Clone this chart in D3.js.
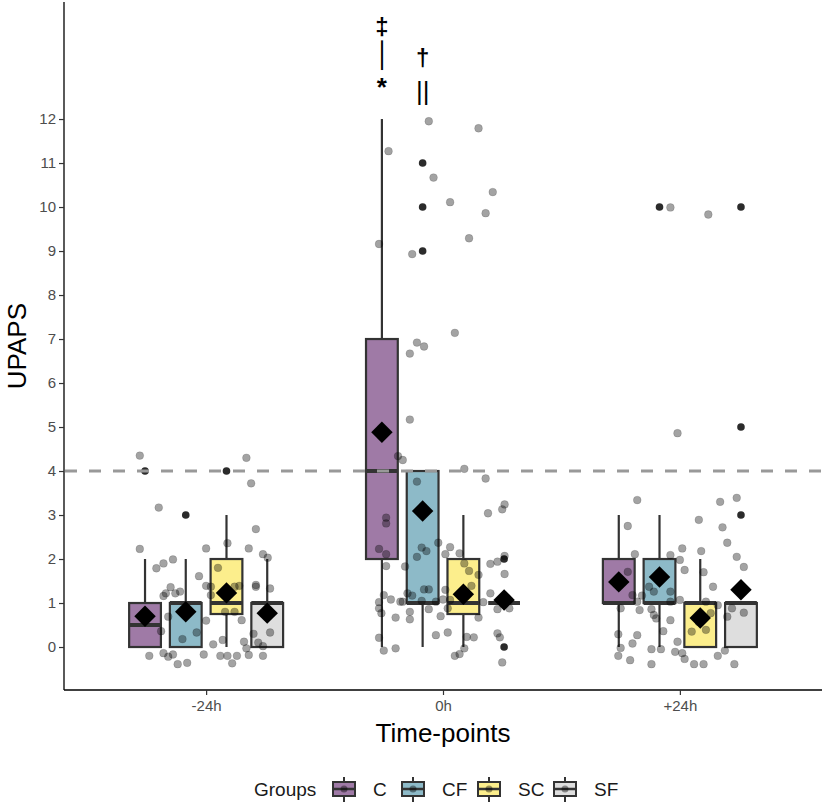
<!DOCTYPE html>
<html>
<head>
<meta charset="utf-8">
<script src="https://cdn.jsdelivr.net/npm/d3@7"></script>
<style>
	body { margin: 0; background: #fff; }
	svg { font-family: "Liberation Sans", Arial, sans-serif; }
</style>
</head>
<body>
<script>
var SIZE = { width: 824, height: 808 };
var PANEL = { left: 64, top: 2, right: 822, bottom: 690 };

var TIMEPOINTS = ['-24h', '0h', '+24h'];
var GROUPS = ['C', 'CF', 'SC', 'SF'];
var GROUP_COLORS = ['#9f7aa6', '#8dbac8', '#fcee8c', '#dedede'];
var Y_TICKS = [0, 1, 2, 3, 4, 5, 6, 7, 8, 9, 10, 11, 12];
var CUTOFF = 4;

// box statistics, [timepoint][group]
var Q1 = [[0, 0, 0.75, 0], [2, 1, 0.75, 1], [1, 1, 0, 0]];
var MEDIANS = [[0.5, 1, 1, 1], [4, 1, 1, 1], [1, 1, 1, 1]];
var Q3 = [[1, 1, 2, 1], [7, 4, 2, 1], [2, 2, 1, 1]];
var WHISKER_LOW = [[0, 0, 0, 0], [0, 0, 0, 1], [0, 0, 0, 0]];
var WHISKER_HIGH = [[2, 2, 3, 2], [12, 4, 3, 1], [3, 3, 2, 1]];
var MEANS = [[0.7, 0.8, 1.23, 0.77], [4.88, 3.09, 1.2, 1.07], [1.48, 1.59, 0.66, 1.3]];
var OUTLIERS = [
	[[4], [3], [4], []],
	[[], [9, 10, 11], [], [0, 2]],
	[[], [10], [], [3, 5, 10]]
];

// jittered observations: [offset from time-point in category steps, value]
var POINTS_M24 = [
	[-0.28, 4.35], [0.17, 4.30], [0.19, 3.72], [-0.20, 3.17], [0.21, 2.68], [-0.28, 2.23],
	[0.00, 2.24], [0.09, 2.36], [0.18, 2.24], [-0.21, 1.79], [-0.18, 1.90], [-0.14, 1.99],
	[-0.03, 1.61], [0.24, 2.11], [0.26, 2.03], [-0.15, 1.36], [-0.17, 1.22], [-0.11, 1.26],
	[0.05, 1.80], [0.00, 1.39], [0.02, 1.18], [0.14, 1.39], [0.21, 1.41], [0.27, 1.33],
	[-0.16, 0.69], [0.00, 0.60], [-0.19, 0.36], [-0.04, 0.33], [-0.10, 0.18], [0.20, 0.30],
	[0.27, 0.33], [0.07, 0.16], [0.15, 0.61], [0.08, 0.80], [0.12, 0.80], [0.16, 0.12],
	[0.17, -0.03], [0.22, 0.10], [0.24, 0.02], [-0.24, -0.20], [-0.18, -0.14], [-0.16, -0.22],
	[-0.14, -0.17], [-0.12, -0.39], [-0.08, -0.36], [-0.01, -0.17], [0.06, -0.20], [0.09, -0.20],
	[0.11, -0.37], [0.13, -0.20], [0.18, -0.18], [0.24, -0.20], [0.03, 0.06], [-0.18, 1.16],
	[0.02, 1.37], [0.12, 1.37], [0.21, 1.37], [-0.13, 1.22]
];
var POINTS_0H = [
	[-0.06, 11.95], [0.15, 11.79], [-0.23, 11.27], [-0.04, 10.67], [0.21, 10.34], [0.03, 10.11],
	[0.18, 9.86], [0.11, 9.29], [-0.27, 9.16], [-0.13, 8.93], [0.05, 7.14], [-0.11, 6.92],
	[-0.08, 6.83], [-0.14, 6.67], [-0.14, 5.17], [-0.19, 4.34], [-0.17, 4.25], [0.09, 4.05],
	[0.18, 3.83], [-0.11, 3.76], [0.26, 3.24], [0.25, 3.13], [0.19, 3.04], [-0.24, 2.94],
	[-0.24, 2.81], [-0.02, 2.37], [0.03, 2.27], [-0.27, 2.23], [-0.09, 2.26], [-0.07, 2.18],
	[-0.24, 2.11], [-0.11, 2.05], [0.01, 2.11], [0.07, 2.13], [0.26, 2.07], [-0.24, 1.84],
	[-0.16, 1.83], [0.09, 1.90], [0.11, 1.73], [0.15, 1.64], [0.20, 1.89], [0.23, 1.94],
	[0.26, 1.66], [0.12, 1.39], [-0.25, 1.18], [-0.15, 1.22], [-0.13, 1.17], [-0.08, 1.31],
	[-0.06, 1.31], [-0.22, 1.08], [-0.27, 1.02], [-0.18, 1.03], [-0.17, 1.03], [-0.09, 1.05],
	[-0.03, 1.03], [0.01, 1.30], [0.00, 1.08], [0.03, 1.07], [0.02, 0.88], [0.17, 1.02],
	[0.20, 1.22], [0.23, 0.86], [0.28, 0.88], [-0.06, 0.86], [-0.27, 0.88], [-0.26, 0.77],
	[-0.14, 0.80], [-0.14, 0.63], [-0.20, 0.67], [-0.01, 0.70], [0.15, 0.67], [-0.27, 0.21],
	[-0.03, 0.27], [0.02, 0.33], [0.10, 0.23], [0.13, 0.22], [0.23, 0.31], [0.24, 0.22],
	[0.09, -0.03], [-0.25, -0.08], [-0.20, -0.03], [0.05, -0.20], [0.07, -0.16], [0.25, -0.35]
];
var POINTS_P24 = [
	[-0.04, 9.99], [0.12, 9.83], [-0.01, 4.86], [-0.18, 3.34], [0.17, 3.30], [0.24, 3.39],
	[-0.22, 2.75], [0.08, 2.89], [0.18, 2.72], [0.20, 2.37], [-0.19, 2.11], [0.01, 2.24],
	[-0.04, 2.09], [0.00, 1.98], [0.02, 1.75], [0.09, 2.18], [0.10, 1.70], [0.24, 2.05],
	[0.27, 1.82], [-0.22, 1.71], [-0.13, 1.37], [0.14, 1.37], [-0.04, 1.26], [-0.16, 1.17],
	[-0.20, 1.18], [-0.11, 1.26], [-0.04, 1.03], [0.00, 1.07], [-0.25, 0.88], [-0.17, 0.84],
	[-0.12, 0.86], [-0.11, 0.73], [-0.10, 0.65], [-0.18, 1.03], [0.11, 1.03], [0.16, 0.95],
	[0.13, 0.77], [0.20, 0.69], [0.22, 0.88], [0.27, 0.78], [-0.04, 0.61], [0.08, 0.57],
	[-0.07, 0.36], [0.05, 0.35], [0.11, 0.39], [-0.26, 0.29], [-0.18, 0.27], [-0.20, 0.08],
	[-0.01, 0.12], [-0.25, -0.02], [-0.12, -0.05], [-0.08, -0.05], [-0.02, -0.11], [0.01, -0.14],
	[0.19, -0.08], [0.16, -0.20], [-0.26, -0.20], [-0.21, -0.30], [-0.12, -0.39], [0.02, -0.27],
	[0.06, -0.39], [0.10, -0.39], [0.23, -0.39]
];
var POINTS = [POINTS_M24, POINTS_0H, POINTS_P24];

// significance marks stacked over the 0h boxes
var MARK_TIME = '0h';
var MARK_GROUPS = ['C', 'C', 'C', 'CF', 'CF'];
var MARK_LABELS = ['\u2021', '\u2502', '*', '\u2020', '||'];
var MARK_VALUES = [14.11, 13.45, 12.82, 13.4, 12.65];

ready();

function ready() {
	var svg = d3.select('body')
		.append('svg')
		.attr('width', SIZE.width)
		.attr('height', SIZE.height);

	var x = d3.scalePoint()
		.domain(TIMEPOINTS)
		.range([PANEL.left, PANEL.right])
		.padding(0.6);

	var dodge = d3.scaleBand()
		.domain(GROUPS)
		.range([-0.325 * x.step(), 0.325 * x.step()])
		.paddingInner(0.22);

	var y = d3.scaleLinear()
		.domain([-0.977, 14.66])
		.range([PANEL.bottom, PANEL.top]);

	drawAxes(svg, x, y);
	drawBoxes(svg, x, dodge, y);
	drawPoints(svg, x, y);
	drawMeans(svg, x, dodge, y);
	drawCutoff(svg, y);
	drawMarks(svg, x, dodge, y);
	drawLegend(svg);
}

function boxData() {
	var boxes = [];
	TIMEPOINTS.forEach(function (t, i) {
		GROUPS.forEach(function (g, j) {
			boxes.push({
				time: t, group: g, color: GROUP_COLORS[j],
				q1: Q1[i][j], median: MEDIANS[i][j], q3: Q3[i][j],
				low: WHISKER_LOW[i][j], high: WHISKER_HIGH[i][j],
				mean: MEANS[i][j], outliers: OUTLIERS[i][j]
			});
		});
	});
	return boxes;
}

function drawAxes(svg, x, y) {
	var yAxis = d3.axisLeft(y).tickValues(Y_TICKS).tickSize(5).tickPadding(3);
	var xAxis = d3.axisBottom(x).tickSize(5).tickPadding(5);

	var gy = svg.append('g')
		.attr('transform', 'translate(' + PANEL.left + ',0)')
		.call(yAxis);
	var gx = svg.append('g')
		.attr('transform', 'translate(0,' + PANEL.bottom + ')')
		.call(xAxis);

	[gx, gy].forEach(function (g) {
		g.attr('font-size', 15).attr('font-family', '"Liberation Sans", Arial, sans-serif');
		g.select('.domain').attr('stroke', '#000').attr('stroke-width', 1.3);
		g.selectAll('.tick line').attr('stroke', '#333').attr('stroke-width', 1.2);
		g.selectAll('.tick text').attr('fill', '#4d4d4d');
	});
	gy.select('.domain').attr('d', 'M0,' + PANEL.top + 'V' + PANEL.bottom);
	gx.select('.domain').attr('d', 'M' + PANEL.left + ',0H' + PANEL.right);

	svg.append('text')
		.attr('transform', 'translate(26,' + y(6.84) + ') rotate(-90)')
		.attr('text-anchor', 'middle')
		.style('font-size', '26px')
		.text('UPAPS');

	svg.append('text')
		.attr('x', x('0h'))
		.attr('y', 742)
		.attr('text-anchor', 'middle')
		.style('font-size', '26px')
		.text('Time-points');
}

function drawBoxes(svg, x, dodge, y) {
	var w = dodge.bandwidth();
	var boxes = svg.append('g').selectAll('g')
		.data(boxData())
		.enter()
		.append('g')
		.attr('transform', function (d) { return 'translate(' + (x(d.time) + dodge(d.group) + w / 2) + ',0)'; });

	boxes.append('line')
		.attr('x1', 0).attr('x2', 0)
		.attr('y1', function (d) { return y(d.q3); })
		.attr('y2', function (d) { return y(d.high); })
		.attr('stroke', '#333').attr('stroke-width', 2.2);
	boxes.append('line')
		.attr('x1', 0).attr('x2', 0)
		.attr('y1', function (d) { return y(d.q1); })
		.attr('y2', function (d) { return y(d.low); })
		.attr('stroke', '#333').attr('stroke-width', 2.2);

	boxes.append('rect')
		.attr('x', -w / 2)
		.attr('width', w)
		.attr('y', function (d) { return y(d.q3); })
		.attr('height', function (d) { return y(d.q1) - y(d.q3); })
		.attr('fill', function (d) { return d.color; })
		.attr('stroke', '#333')
		.attr('stroke-width', 2.2);

	boxes.append('line')
		.attr('x1', -w / 2).attr('x2', w / 2)
		.attr('y1', function (d) { return y(d.median); })
		.attr('y2', function (d) { return y(d.median); })
		.attr('stroke', '#333').attr('stroke-width', 4);

	boxes.selectAll('circle.outlier')
		.data(function (d) { return d.outliers; })
		.enter()
		.append('circle')
		.classed('outlier', true)
		.attr('cx', 0)
		.attr('cy', function (v) { return y(v); })
		.attr('r', 3.8)
		.attr('fill', '#2b2b2b');
}

function drawPoints(svg, x, y) {
	var g = svg.append('g');
	TIMEPOINTS.forEach(function (t, i) {
		g.selectAll(null)
			.data(POINTS[i])
			.enter()
			.append('circle')
			.attr('cx', function (p) { return x(t) + p[0] * x.step(); })
			.attr('cy', function (p) { return y(p[1]); })
			.attr('r', 3.9)
			.attr('fill', '#000')
			.attr('fill-opacity', 0.36)
			.attr('stroke', '#000')
			.attr('stroke-opacity', 0.22)
			.attr('stroke-width', 0.6);
	});
}

function drawMeans(svg, x, dodge, y) {
	var w = dodge.bandwidth();
	svg.append('g').selectAll('path')
		.data(boxData())
		.enter()
		.append('path')
		.attr('d', d3.symbol().type(d3.symbolSquare).size(230))
		.attr('transform', function (d) {
			return 'translate(' + (x(d.time) + dodge(d.group) + w / 2) + ',' + y(d.mean) + ') rotate(45)';
		})
		.attr('fill', '#000');
}

function drawCutoff(svg, y) {
	svg.append('line')
		.attr('x1', PANEL.left + 1)
		.attr('x2', PANEL.right)
		.attr('y1', y(CUTOFF))
		.attr('y2', y(CUTOFF))
		.attr('stroke', '#999')
		.attr('stroke-width', 2.8)
		.attr('stroke-dasharray', '12,12');
}

function markStyle(label) {
	if (label === '*') return { size: 26, weight: 'bold', family: '"Liberation Sans", Arial, sans-serif', dy: '0.5em' };
	if (label === '\u2502') return { size: 25, weight: 'bold', family: '"DejaVu Sans", sans-serif', dy: '0.35em' };
	if (label === '||') return { size: 26, weight: 'normal', family: '"Liberation Sans", Arial, sans-serif', dy: '0.35em' };
	return { size: 24, weight: 'bold', family: '"Liberation Sans", Arial, sans-serif', dy: '0.35em' };
}

function drawMarks(svg, x, dodge, y) {
	var w = dodge.bandwidth();
	MARK_LABELS.forEach(function (label, i) {
		var s = markStyle(label);
		svg.append('text')
			.attr('x', x(MARK_TIME) + dodge(MARK_GROUPS[i]) + w / 2)
			.attr('y', y(MARK_VALUES[i]))
			.attr('dy', s.dy)
			.attr('text-anchor', 'middle')
			.style('font-size', s.size + 'px')
			.style('font-weight', s.weight)
			.style('font-family', s.family)
			.text(label);
	});
}

function drawLegend(svg) {
	var keyX = [344, 413, 489, 565];
	var cy = 789;
	var legend = svg.append('g');

	legend.append('text')
		.attr('x', 254)
		.attr('y', cy)
		.attr('dy', '0.35em')
		.style('font-size', '19px')
		.attr('fill', '#1a1a1a')
		.text('Groups');

	GROUPS.forEach(function (g, i) {
		var key = legend.append('g').attr('transform', 'translate(' + keyX[i] + ',' + cy + ')');
		key.append('line').attr('x1', 0).attr('x2', 0).attr('y1', -12).attr('y2', 13)
			.attr('stroke', '#333').attr('stroke-width', 2);
		key.append('rect').attr('x', -11).attr('y', -7).attr('width', 22).attr('height', 14)
			.attr('fill', GROUP_COLORS[i]).attr('stroke', '#333').attr('stroke-width', 2);
		key.append('line').attr('x1', -11).attr('x2', 11).attr('y1', 0).attr('y2', 0)
			.attr('stroke', '#333').attr('stroke-width', 2.5);
		key.append('circle').attr('r', 3.5).attr('fill', '#000').attr('fill-opacity', 0.4);
		legend.append('text')
			.attr('x', keyX[i] + 29)
			.attr('y', cy)
			.attr('dy', '0.35em')
			.style('font-size', '19px')
			.attr('fill', '#1a1a1a')
			.text(g);
	});
}
</script>
</body>
</html>
